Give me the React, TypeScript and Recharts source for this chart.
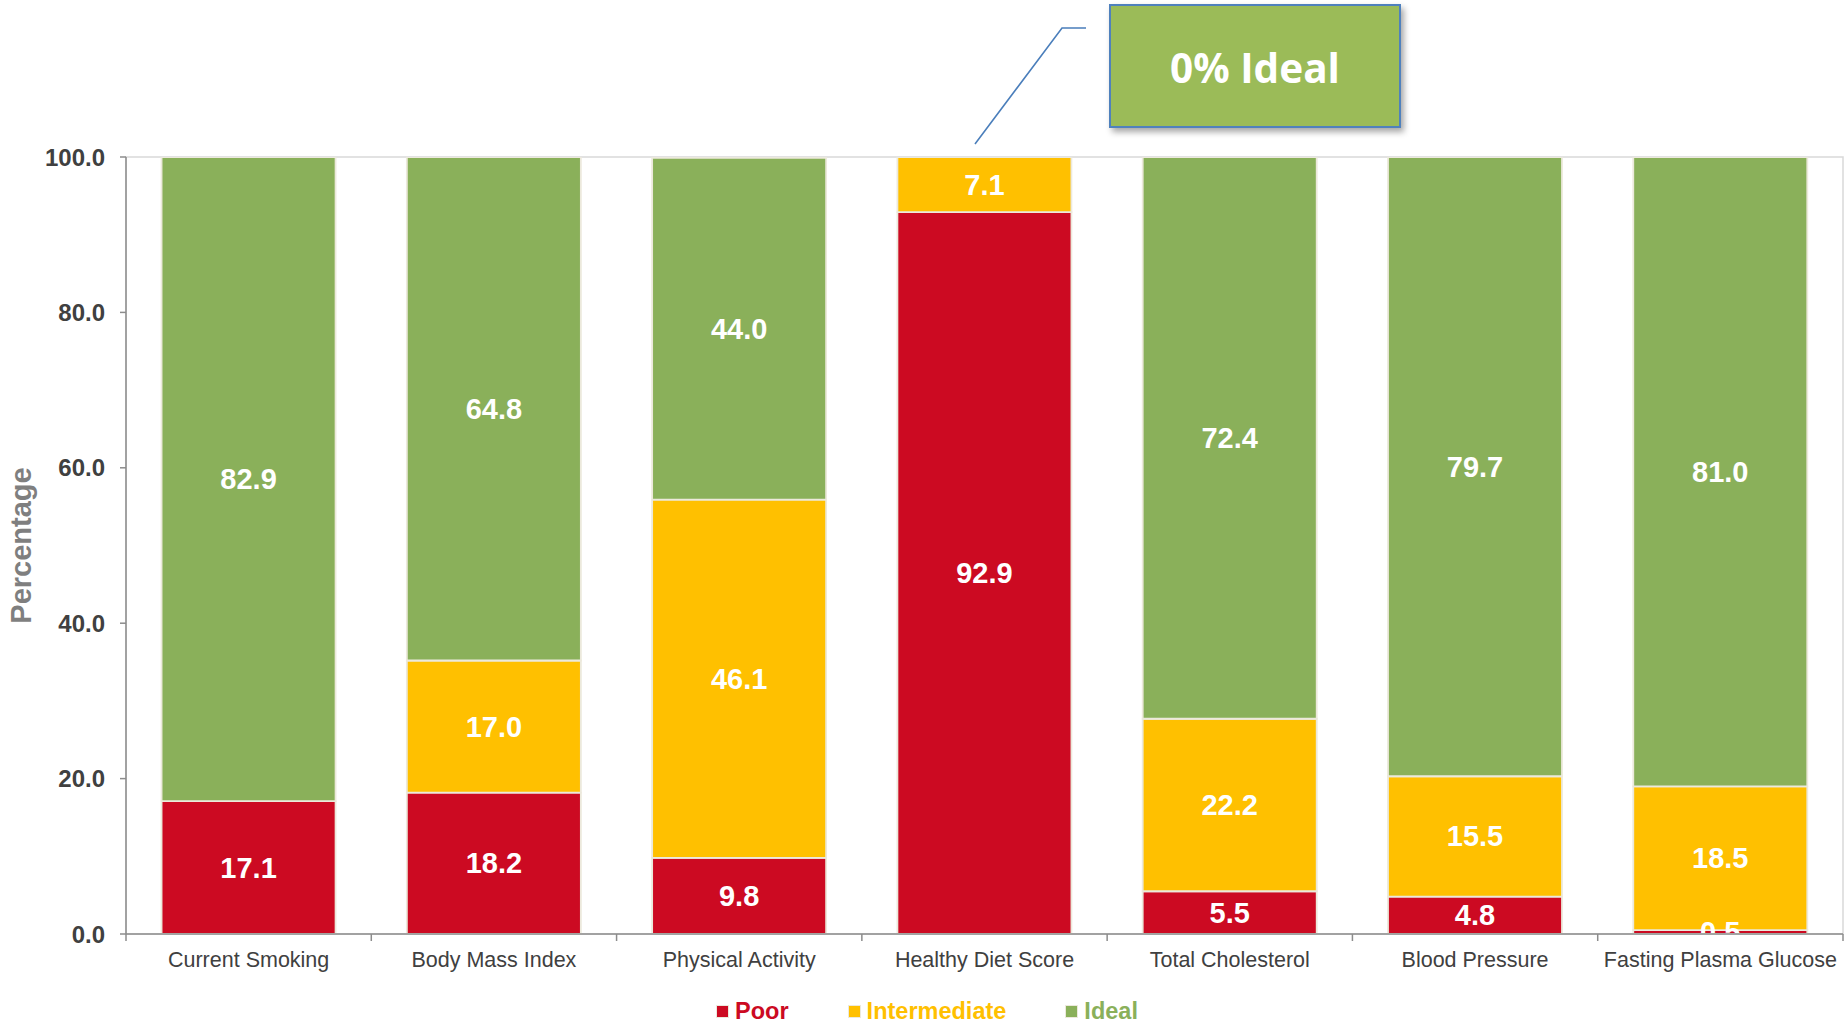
import React from "react";
import { BarChart, Bar, XAxis, YAxis, Legend, LabelList, ReferenceArea, Label } from "recharts";

const categories = [
  "Current Smoking",
  "Body Mass Index",
  "Physical Activity",
  "Healthy Diet Score",
  "Total Cholesterol",
  "Blood Pressure",
  "Fasting Plasma Glucose",
];
const poor = [17.1, 18.2, 9.8, 92.9, 5.5, 4.8, 0.5];
const intermediate: (number | null)[] = [null, 17.0, 46.1, 7.1, 22.2, 15.5, 18.5];
const ideal: (number | null)[] = [82.9, 64.8, 44.0, null, 72.4, 79.7, 81.0];
const yTicks = [0, 20, 40, 60, 80, 100];
const seriesNames = ["Poor", "Intermediate", "Ideal"];
const calloutText = "0% Ideal";

const data = categories.map((c, i) => ({
  name: c,
  poor: poor[i],
  intermediate: intermediate[i],
  ideal: ideal[i],
}));

const W = 1845;
const H = 1031;
const M = { top: 157, right: 2, left: 0, bottom: 0 };
const Y_W = 126;
const X_H = 57;
const LEG_H = 40;
const PLOT_W = W - M.left - M.right - Y_W;
const PLOT_BOTTOM = H - M.bottom - LEG_H - X_H;
const BAND = PLOT_W / categories.length;

const RED = "#CC0A22";
const YELLOW = "#FFC000";
const GREEN = "#8AB05A";
const SEP = "#ECE9DC";
const FONT = "'Liberation Sans', Arial, Helvetica, sans-serif";
const colors = [RED, YELLOW, GREEN];

const renderLabel = (props: any) => {
  const { x, y, width, height, value, index } = props;
  if (value == null || value === 0) return null;
  const cx = Number(x) + Number(width) / 2;
  const cy = Number(y) + Number(height) / 2;
  const id = `clip-lbl-${index}-${Math.round(cx)}-${Math.round(cy)}`;
  return (
    <g>
      <defs>
        <clipPath id={id}>
          <rect x={0} y={0} width={W} height={PLOT_BOTTOM - 1} />
        </clipPath>
      </defs>
      <text
        x={cx}
        y={cy}
        textAnchor="middle"
        dominantBaseline="central"
        fill="#FFFFFF"
        fontFamily={FONT}
        fontWeight="bold"
        fontSize={29}
        clipPath={`url(#${id})`}
      >
        {Number(value).toFixed(1)}
      </text>
    </g>
  );
};

const XTick = (props: any) => {
  const { x, y, payload, index } = props;
  const last = index === categories.length - 1;
  return (
    <g>
      <line x1={x - BAND / 2} x2={x - BAND / 2} y1={y} y2={y + 7} stroke="#8C8C8C" strokeWidth={1.5} />
      {last && <line x1={x + BAND / 2} x2={x + BAND / 2} y1={y} y2={y + 7} stroke="#8C8C8C" strokeWidth={1.5} />}
      <text
        x={x}
        y={y + 26}
        textAnchor="middle"
        dominantBaseline="central"
        fill="#404040"
        fontFamily={FONT}
        fontSize={21.5}
      >
        {payload.value}
      </text>
    </g>
  );
};

const YTick = (props: any) => {
  const { x, y, payload } = props;
  return (
    <text
      x={x}
      y={y}
      textAnchor="end"
      dominantBaseline="central"
      fill="#404040"
      fontFamily={FONT}
      fontWeight="bold"
      fontSize={24}
    >
      {Number(payload.value).toFixed(1)}
    </text>
  );
};

const YTitle = (props: any) => {
  const vb = props.viewBox || { x: 0, y: 0, width: 0, height: 0 };
  const cx = vb.x + 21;
  const cy = vb.y + vb.height / 2;
  return (
    <text
      x={cx}
      y={cy}
      transform={`rotate(-90 ${cx} ${cy})`}
      textAnchor="middle"
      dominantBaseline="central"
      fill="#7F7F7F"
      fontFamily={FONT}
      fontWeight="bold"
      fontSize={29}
    >
      Percentage
    </text>
  );
};

const LegendContent = () => (
  <div
    style={{
      height: LEG_H,
      display: "flex",
      justifyContent: "center",
      alignItems: "center",
      gap: 60,
      paddingLeft: 12,
      fontFamily: FONT,
      fontWeight: "bold",
      fontSize: 23.5,
    }}
  >
    {seriesNames.map((n, i) => (
      <div key={n} style={{ display: "flex", alignItems: "center", gap: 7, color: colors[i] }}>
        <span style={{ width: 11, height: 11, background: colors[i], display: "inline-block", outline: "1px solid #ECE9DC" }} />
        <span>{n}</span>
      </div>
    ))}
  </div>
);

export default function App() {
  return (
    <div style={{ position: "absolute", left: 0, top: 0, width: W, height: H, background: "#fff" }}>
      <BarChart width={W} height={H} data={data} margin={M} barCategoryGap="14.5%">
        <ReferenceArea y1={0} y2={100} fill="none" stroke="#D9D9D9" strokeWidth={1.5} ifOverflow="visible" />
        <XAxis
          dataKey="name"
          height={X_H}
          tickSize={0}
          tickMargin={0}
          tickLine={false}
          axisLine={{ stroke: "#8C8C8C", strokeWidth: 1.5 }}
          tick={<XTick />}
          interval={0}
        />
        <YAxis
          width={Y_W}
          domain={[0, 100]}
          ticks={yTicks}
          tickSize={6}
          tickMargin={15}
          tickLine={{ stroke: "#8C8C8C", strokeWidth: 1.5 }}
          axisLine={{ stroke: "#8C8C8C", strokeWidth: 1.5 }}
          tick={<YTick />}
          allowDataOverflow
        >
          <Label content={<YTitle />} />
        </YAxis>
        <Legend verticalAlign="bottom" height={LEG_H} content={<LegendContent />} />
        <Bar dataKey="poor" name="Poor" stackId="s" fill={RED} stroke={SEP} strokeWidth={1.8} isAnimationActive={false}>
          <LabelList dataKey="poor" content={renderLabel} />
        </Bar>
        <Bar dataKey="intermediate" name="Intermediate" stackId="s" fill={YELLOW} stroke={SEP} strokeWidth={1.8} isAnimationActive={false}>
          <LabelList dataKey="intermediate" content={renderLabel} />
        </Bar>
        <Bar dataKey="ideal" name="Ideal" stackId="s" fill={GREEN} stroke={SEP} strokeWidth={1.8} isAnimationActive={false}>
          <LabelList dataKey="ideal" content={renderLabel} />
        </Bar>
      </BarChart>
      <svg width={W} height={H} style={{ position: "absolute", left: 0, top: 0, pointerEvents: "none" }}>
        <defs>
          <filter id="shadow" x="-10%" y="-10%" width="130%" height="140%">
            <feDropShadow dx="3" dy="4" stdDeviation="3" floodColor="#000" floodOpacity="0.35" />
          </filter>
        </defs>
        <polyline points="975,144 1062,28 1086,28" fill="none" stroke="#4A7EBB" strokeWidth={1.6} />
        <rect x={1110} y={5} width={290} height={122} fill="#9BBB59" stroke="#4F81BD" strokeWidth={2} filter="url(#shadow)" />
        <text
          x={1255}
          y={67}
          textAnchor="middle"
          dominantBaseline="central"
          fill="#FFFFFF"
          fontFamily="'Open Sans', 'Noto Sans', sans-serif"
          fontWeight="bold"
          fontSize={40.5}
        >
          {calloutText}
        </text>
      </svg>
    </div>
  );
}
